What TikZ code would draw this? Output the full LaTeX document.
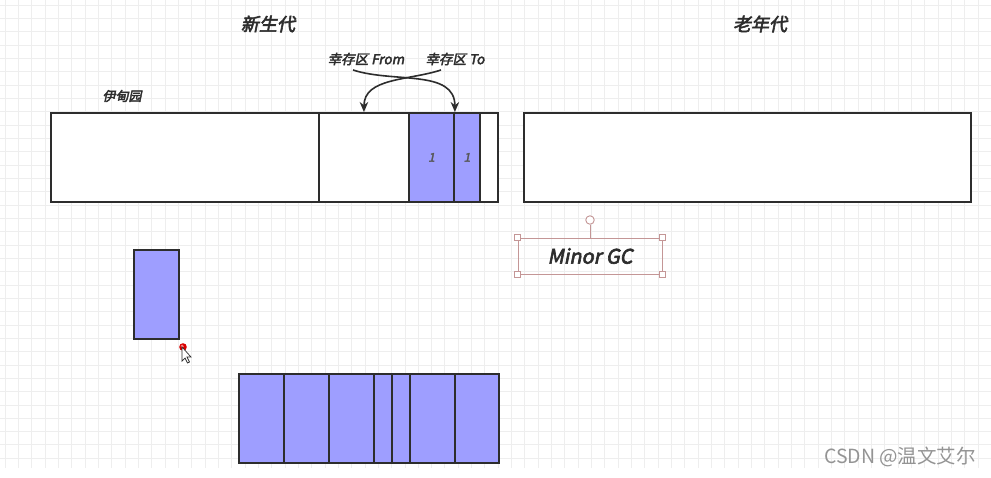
\documentclass[tikz,border=0pt]{standalone}
\usepackage{fontspec}
\usepackage{xcolor}
\usepackage{tikz}
\usetikzlibrary{arrows.meta}
\newfontfamily\cjk{Noto Sans CJK SC}
\newfontfamily\cjkbi{Noto Sans CJK SC}[FakeSlant=0.2,FakeBold=3]
\definecolor{memblue}{RGB}{158,158,255}
\definecolor{edge}{RGB}{45,45,45}
\definecolor{selbox}{RGB}{196,150,150}
\definecolor{gridgray}{RGB}{238,238,238}

\begin{document}
\begin{tikzpicture}[
  x=1pt,y=-1pt,
  gridline/.style={gridgray,line width=0.8pt},
  area/.style={draw=edge,line width=1.9pt,fill=white,minimum height=89pt,
               inner sep=0pt,anchor=north west},
  obj/.style={area,fill=memblue,font=\cjkbi\fontsize{12}{12}\selectfont,text=edge!80},
  title/.style={font=\cjkbi\fontsize{18}{18}\selectfont,text=edge},
  sub/.style={font=\cjkbi\fontsize{13.5}{13.5}\selectfont,text=edge},
  flow/.style={-{Stealth[length=10pt,width=8.5pt]},line width=1.6pt,edge},
  handle/.style={draw=selbox,fill=white,line width=0.9pt,minimum size=6pt,inner sep=0pt},
  wmark/.style={font=\cjk\fontsize{19.5}{19.5}\selectfont,text=black!42}
]
\useasboundingbox (0,0) rectangle (991,477);
\fill[white] (0,0) rectangle (991,477);
% background grid
\foreach \i in {0,...,74} {\draw[gridline] ({5+13.33*\i},0) -- ({5+13.33*\i},468);}
\foreach \j in {0,...,34} {\draw[gridline] (0,{5+13.33*\j}) -- (991,{5+13.33*\j});}

% generation titles
\node[title] (ytitle) at (268,24) {新生代};
\node[title] (otitle) at (760,24) {老年代};
\node[font=\cjkbi\fontsize{13}{13}\selectfont,text=edge] (edenlbl) at (122,96) {伊甸园};
\node[sub] (fromlbl) at (366,59) {幸存区 From};
\node[sub] (tolbl) at (455,59) {幸存区 To};

% young generation
\node[area,minimum width=447pt] (young) at (50,112) {};
\node[area,minimum width=268pt] (eden) at (50,112) {};
\node[area,minimum width=90pt] (fromsp) at (318,112) {};
\node[obj,minimum width=45pt] (s1) at (408,112) {1};
\node[obj,minimum width=26pt] (s2) at (453,112) {1};

% old generation
\node[area,minimum width=447pt] (old) at (523,112) {};

% survivor arrows
\coordinate (fromtail) at (353,70);
\coordinate (totail) at (441,70);
\draw[flow] (fromtail) to[out=-18,in=90] (s1.north east);
\draw[flow] (totail) to[out=198,in=90] (fromsp.north);

% object being moved
\node[obj,minimum width=45pt] (moving) at (133,249) {};
\fill[red!85!black] (183,347) circle (3.8);
\fill[red!50] (182.2,346.2) circle (1.7);
\filldraw[fill=white,draw=edge,line width=0.7pt]
  (182,347) -- (182,361) -- (185,358) -- (187.5,363) -- (189.5,362)
  -- (187,357) -- (191,357) -- cycle;

% selected text box
\node[draw=selbox,line width=0.9pt,minimum width=144pt,minimum height=36pt,
      font=\cjkbi\fontsize{20}{20}\selectfont,text=edge] (sel) at (590,256) {Minor GC};
\node[handle] (h1) at (sel.north west) {};
\node[handle] (h2) at (sel.north east) {};
\node[handle] (h3) at (sel.south west) {};
\node[handle] (h4) at (sel.south east) {};
\node[draw=selbox,fill=white,line width=0.9pt,circle,minimum size=8.5pt,inner sep=0pt] (rot) at (590,220) {};
\draw[selbox,line width=0.9pt] (rot) -- (sel.north);

% row of objects
\node[obj,minimum width=45pt] (b1) at (238,373) {};
\node[obj,minimum width=45pt] (b2) at (283,373) {};
\node[obj,minimum width=45pt] (b3) at (328,373) {};
\node[obj,minimum width=18pt] (b4) at (373,373) {};
\node[obj,minimum width=18pt] (b5) at (391,373) {};
\node[obj,minimum width=45pt] (b6) at (409,373) {};
\node[obj,minimum width=44pt] (b7) at (454,373) {};

\node[wmark] (mark) at (900,457) {CSDN @温文艾尔};
\end{tikzpicture}
\end{document}
